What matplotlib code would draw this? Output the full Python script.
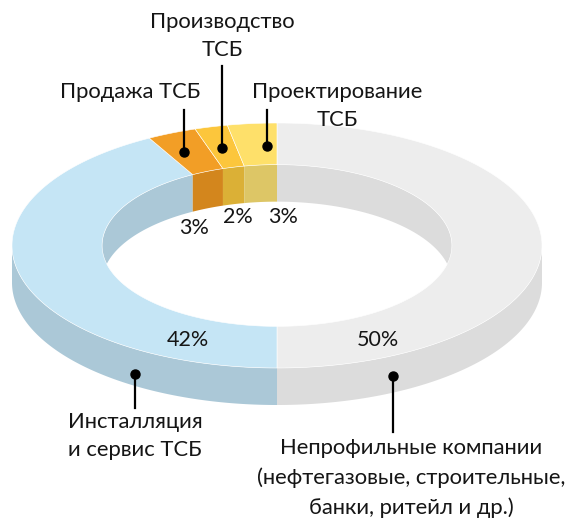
import numpy as np
import matplotlib
import matplotlib.pyplot as plt
from matplotlib.patches import Polygon

matplotlib.use('Agg')
plt.rcParams['font.family'] = ['Lato', 'DejaVu Sans']

# данные: доли сегментов, по часовой стрелке от 12 часов
labels = ['Непрофильные компании\n(нефтегазовые, строительные,\nбанки, ритейл и др.)',
          'Инсталляция\nи сервис ТСБ',
          'Продажа ТСБ',
          'Производство\nТСБ',
          'Проектирование\nТСБ']
shares = [50, 42, 3, 2, 3]
pct_labels = ['50%', '42%', '3%', '2%', '3%']
top_colors = ['#ededed', '#c5e5f5', '#f29e26', '#fcc63c', '#fee06a']
side_colors = ['#dcdcdc', '#abc8d7', '#d3861d', '#dbb036', '#ddc666']

# раскладка подписей (в пикселях картинки)
pct_pos = [(378, 340), (188, 340), (194, 228), (238, 217), (283, 217)]
label_pos = [(411, 478), (135, 436), (130, 92), (222, 36), (337, 106)]
label_ls = [1.55, 1.55, 1.2, 1.45, 1.45]
leader = [((393, 376), 432), ((135, 374), 408), ((184, 152), 110),
          ((222, 148), 66), ((267, 146), 110)]

cx, cy = 277, 245.5
a, b = 265, 122.5
k = 0.66
h = 37


def pts(th, r, dy=0):
    return np.column_stack([cx + a * r * np.sin(th), cy - b * r * np.cos(th) + dy])


def clip(t0, t1, lo, hi):
    s, e = max(t0, lo), min(t1, hi)
    if e <= s:
        return None
    return np.linspace(s, e, 120)


fig = plt.figure(figsize=(5.69, 5.19), dpi=100)
ax = fig.add_axes([0, 0, 1, 1])
ax.set_xlim(0, 569)
ax.set_ylim(519, 0)
ax.axis('off')

bounds = np.concatenate([[0], np.cumsum(shares)]) / sum(shares) * 2 * np.pi

for i in range(len(shares)):
    t0, t1 = bounds[i], bounds[i + 1]
    # внутренняя стенка (дальняя половина)
    for lo, hi in [(0, np.pi / 2), (1.5 * np.pi, 2 * np.pi)]:
        th = clip(t0, t1, lo, hi)
        if th is not None:
            poly = np.vstack([pts(th, k), pts(th[::-1], k, h)])
            ax.add_patch(Polygon(poly, closed=True, fc=side_colors[i], ec='none', zorder=1))
    # внешняя стенка (ближняя половина)
    th = clip(t0, t1, np.pi / 2, 1.5 * np.pi)
    if th is not None:
        poly = np.vstack([pts(th, 1), pts(th[::-1], 1, h)])
        ax.add_patch(Polygon(poly, closed=True, fc=side_colors[i], ec='none', zorder=2))

for i in range(len(shares)):
    th = np.linspace(bounds[i], bounds[i + 1], 200)
    poly = np.vstack([pts(th, 1), pts(th[::-1], k)])
    ax.add_patch(Polygon(poly, closed=True, fc=top_colors[i], ec='white', lw=0.4, zorder=3))

for i in range(len(shares)):
    ax.text(*pct_pos[i], pct_labels[i], fontsize=15.5, ha='center', va='center',
            color='#151515', zorder=5)
    ax.text(*label_pos[i], labels[i], fontsize=15.8, ha='center', va='center',
            color='#151515', linespacing=label_ls[i], zorder=5)
    (dx, dy), y_end = leader[i]
    ax.plot([dx, dx], [dy, y_end], color='black', lw=1.6, zorder=4)
    ax.plot(dx, dy, 'o', color='black', ms=6.5, zorder=4)

fig.savefig('out.png', dpi=100)
